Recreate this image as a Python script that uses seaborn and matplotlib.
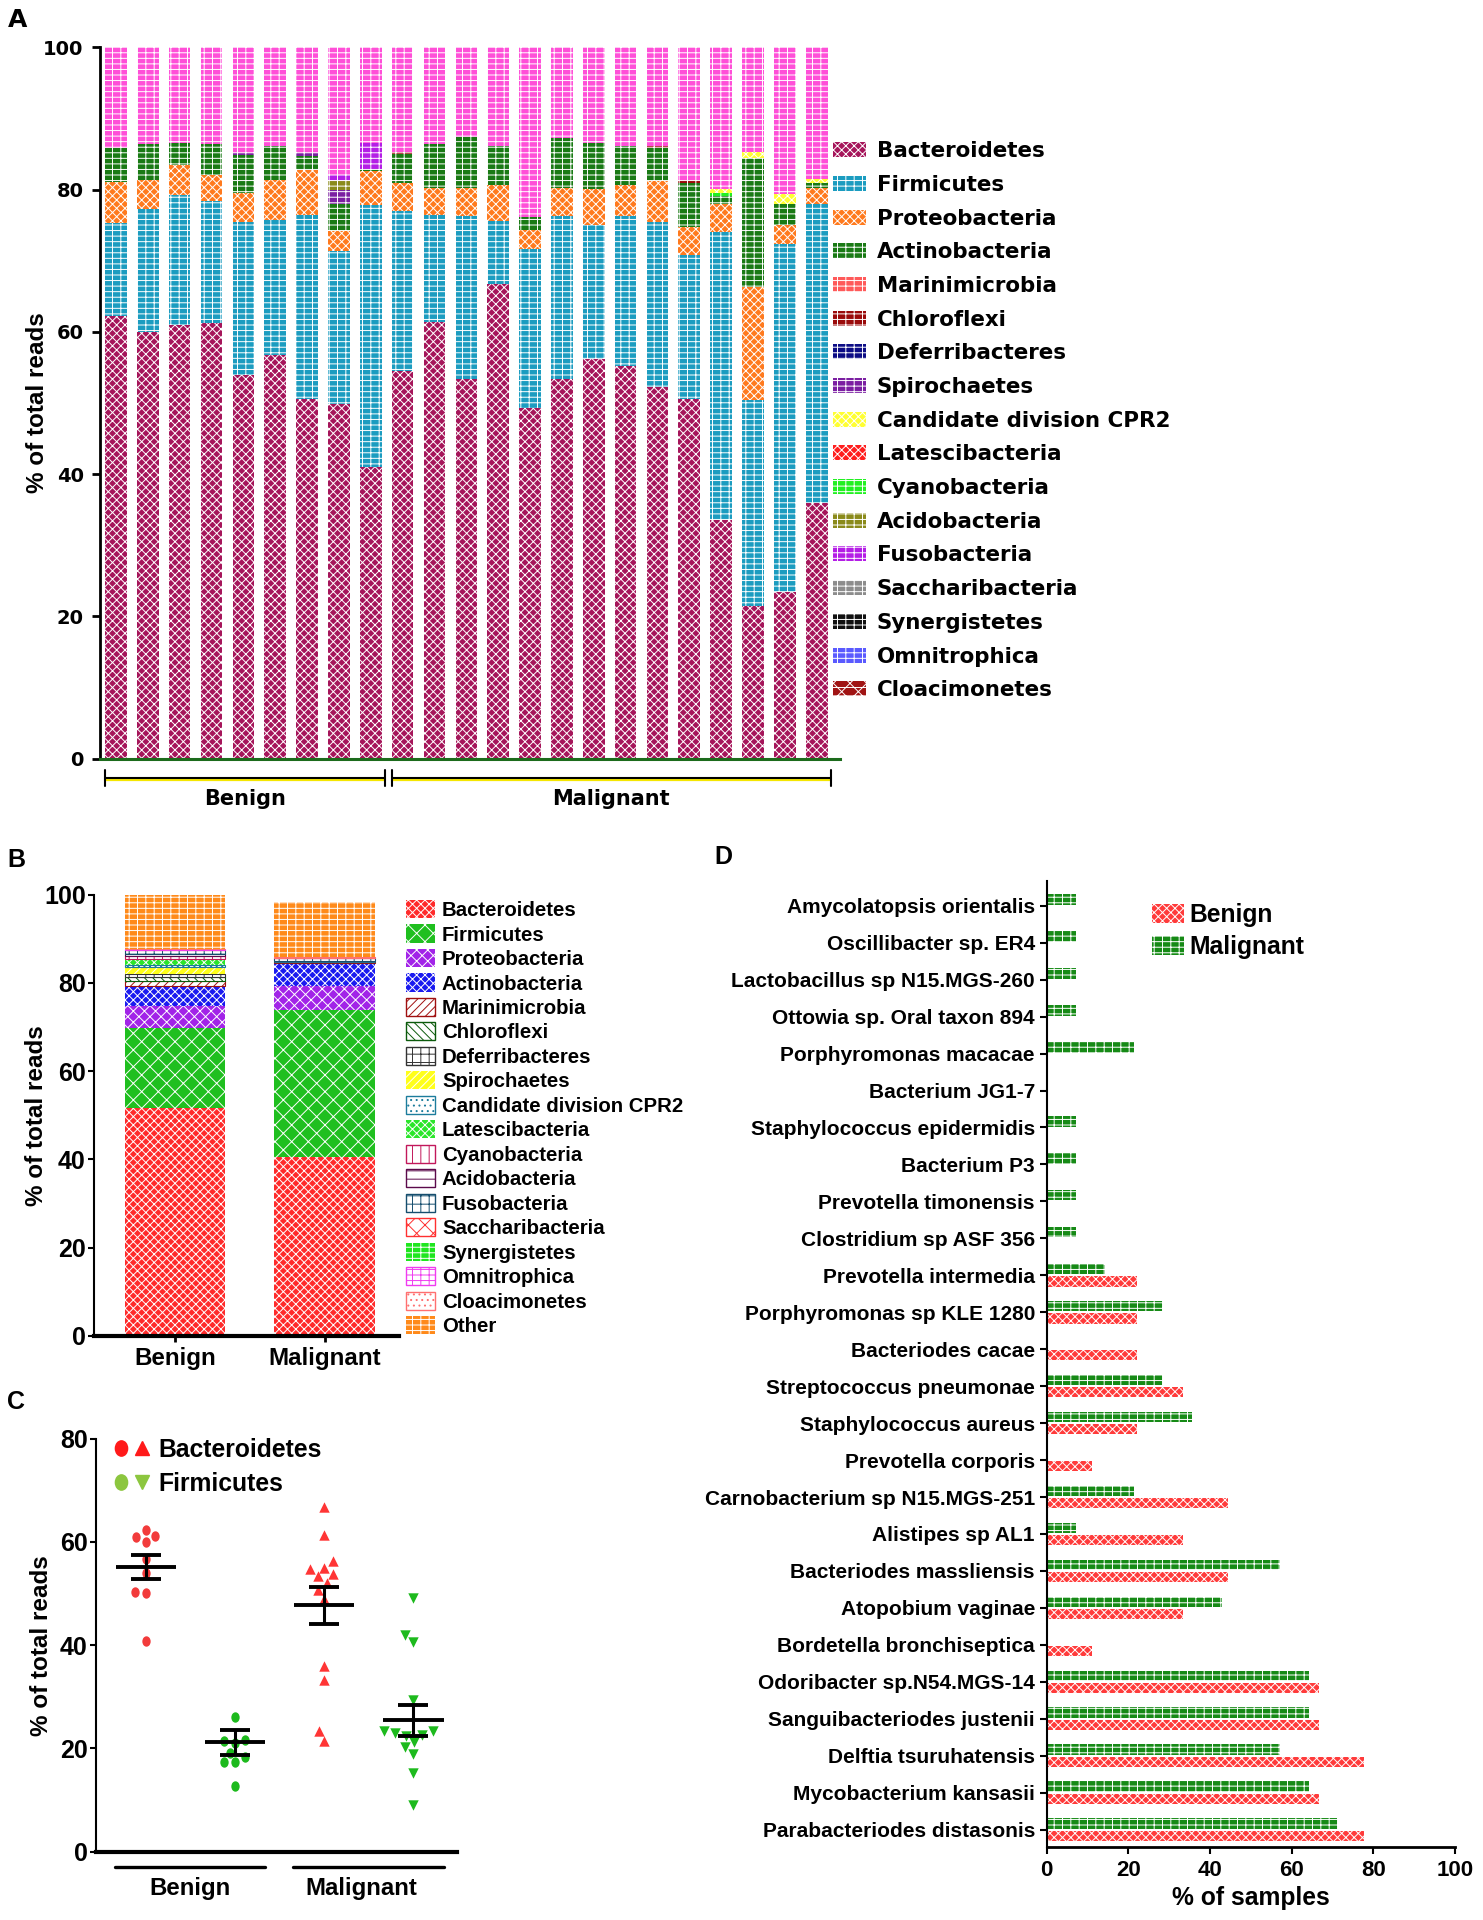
import numpy as np
import pandas as pd
import matplotlib
matplotlib.use("Agg")
import matplotlib.pyplot as plt
import seaborn as sns
from matplotlib.patches import Patch
from matplotlib.lines import Line2D
from matplotlib.legend_handler import HandlerTuple
from matplotlib.path import Path

# ============================ DATA ============================
phyla = ["Bacteroidetes", "Firmicutes", "Proteobacteria", "Actinobacteria",
         "Marinimicrobia", "Chloroflexi", "Deferribacteres", "Spirochaetes",
         "Candidate division CPR2", "Latescibacteria", "Cyanobacteria",
         "Acidobacteria", "Fusobacteria", "Saccharibacteria", "Synergistetes",
         "Omnitrophica", "Cloacimonetes"]

# ---- Panel A: per-sample composition (% of total reads), 9 benign + 14 malignant
a_groups = ["Benign"] * 9 + ["Malignant"] * 14
a_bacteroidetes = [62.3, 60.0, 61.0, 61.2, 53.9, 56.7, 50.6, 49.9, 41.0,
                   54.5, 61.4, 53.4, 66.7, 49.3, 53.4, 56.2, 55.2, 52.2, 50.6, 33.5, 21.5, 23.5, 36.0]
a_firmicutes = [13.0, 17.3, 18.3, 17.2, 21.5, 19.1, 25.9, 21.5, 36.8,
                22.5, 15.1, 22.9, 8.9, 22.4, 22.9, 18.9, 21.1, 23.3, 20.2, 40.5, 28.9, 48.9, 42.0]
a_proteobacteria = [5.8, 4.0, 4.2, 3.7, 4.1, 5.5, 6.3, 2.8, 4.8,
                    4.0, 3.8, 4.0, 5.1, 2.6, 4.0, 5.0, 4.3, 5.7, 3.9, 4.0, 15.9, 2.7, 2.3]
a_actinobacteria = [4.8, 5.1, 3.1, 4.3, 5.4, 4.8, 2.0, 3.8, 0.3,
                    4.0, 6.1, 7.1, 5.4, 1.9, 7.0, 6.5, 5.6, 4.7, 6.3, 1.1, 18.1, 2.9, 0.7]
a_chloroflexi = [0, 0, 0, 0, 0, 0, 0, 0, 0,
                 0.3, 0, 0, 0, 0, 0, 0, 0, 0.2, 0.3, 0, 0, 0, 0]
a_spirochaetes = [0, 0, 0, 0, 0.3, 0, 0.4, 2.0, 0,
                  0, 0, 0, 0, 0, 0, 0, 0, 0, 0, 0, 0, 0, 0]
a_cpr2 = [0, 0, 0, 0, 0, 0, 0, 0, 0,
          0, 0, 0, 0, 0, 0, 0, 0, 0, 0, 0.5, 0.9, 1.4, 0.5]
a_cyanobacteria = [0, 0, 0, 0, 0, 0, 0, 0, 0,
                   0, 0, 0, 0, 0, 0, 0, 0, 0, 0, 0.5, 0, 0, 0]
a_acidobacteria = [0, 0, 0, 0, 0, 0, 0, 1.2, 0,
                   0, 0, 0, 0, 0, 0, 0, 0, 0, 0, 0, 0, 0, 0]
a_fusobacteria = [0, 0, 0, 0, 0, 0, 0, 0.9, 3.7,
                  0, 0, 0, 0, 0, 0, 0, 0, 0, 0, 0, 0, 0, 0]

# ---- Panel B: mean composition per group
b_groups = ["Benign", "Malignant"]
b_bacteroidetes = [51.7, 40.6]
b_firmicutes = [18.0, 33.3]
b_proteobacteria = [5.1, 5.4]
b_actinobacteria = [4.5, 5.3]
b_marinimicrobia = [1.15, 0.05]
b_chloroflexi = [1.0, 0.05]
b_deferribacteres = [0.6, 0.05]
b_spirochaetes = [1.5, 0.05]
b_cpr2 = [0.6, 0.05]
b_latescibacteria = [1.2, 0.05]
b_cyanobacteria = [0.8, 0.05]
b_acidobacteria = [0.3, 0.05]
b_fusobacteria = [0.9, 0.6]
b_saccharibacteria = [0.1, 0.05]
b_synergistetes = [0.1, 0.05]
b_omnitrophica = [0.1, 0.05]
b_cloacimonetes = [0.05, 0.05]
b_other = [12.3, 12.5]

# ---- Panel C: Bacteroidetes / Firmicutes per sample, mean +/- SEM
c_categories = ["Benign Bacteroidetes", "Benign Firmicutes",
                "Malignant Bacteroidetes", "Malignant Firmicutes"]
c_benign_bacteroidetes = [62.3, 61.0, 61.2, 60.0, 56.7, 54.0, 50.3, 50.0, 40.8]
c_benign_firmicutes = [26.0, 21.7, 21.5, 21.0, 19.1, 18.3, 17.3, 17.3, 12.8]
c_malignant_bacteroidetes = [66.7, 61.3, 56.3, 55.0, 54.7, 53.7, 53.3, 52.0, 50.7,
                             49.0, 36.0, 33.3, 23.3, 21.5]
c_malignant_firmicutes = [49.2, 41.9, 40.7, 29.3, 23.3, 23.0, 23.3, 22.7, 21.3,
                          20.3, 19.0, 15.3, 9.0, 22.5]
c_means = [55.1, 21.2, 47.7, 25.5]
c_sem_upper = [57.5, 23.5, 51.3, 28.5]
c_sem_lower = [52.8, 18.8, 44.0, 22.5]

# ---- Panel D: species prevalence (% of samples)
d_species = ["Amycolatopsis orientalis", "Oscillibacter sp. ER4", "Lactobacillus sp N15.MGS-260",
             "Ottowia sp. Oral taxon 894", "Porphyromonas macacae", "Bacterium JG1-7",
             "Staphylococcus epidermidis", "Bacterium P3", "Prevotella timonensis",
             "Clostridium sp ASF 356", "Prevotella intermedia", "Porphyromonas sp KLE 1280",
             "Bacteriodes cacae", "Streptococcus pneumonae", "Staphylococcus aureus",
             "Prevotella corporis", "Carnobacterium sp N15.MGS-251", "Alistipes sp AL1",
             "Bacteriodes massliensis", "Atopobium vaginae", "Bordetella bronchiseptica",
             "Odoribacter sp.N54.MGS-14", "Sanguibacteriodes justenii", "Delftia tsuruhatensis",
             "Mycobacterium kansasii", "Parabacteriodes distasonis"]
d_malignant = [7.1, 7.1, 7.1, 7.1, 21.4, 0, 7.1, 7.1, 7.1, 7.1, 14.3, 28.6, 0, 28.6, 35.7,
               0, 21.4, 7.1, 57.1, 42.9, 0, 64.3, 64.3, 57.1, 64.3, 71.4]
d_benign = [0, 0, 0, 0, 0, 0, 0, 0, 0, 0, 22.2, 22.2, 22.2, 33.3, 22.2,
            11.1, 44.4, 33.3, 44.4, 33.3, 11.1, 66.7, 66.7, 77.8, 66.7, 77.8]

# ============================ STYLE ============================
BRICK = "---||"
a_style = {
    "Bacteroidetes": ("#A5155A", "xxxx"),
    "Firmicutes": ("#1B9CC0", BRICK),
    "Proteobacteria": ("#FF7A1E", "xxxx"),
    "Actinobacteria": ("#197A14", BRICK),
    "Marinimicrobia": ("#FF5A5A", BRICK),
    "Chloroflexi": ("#9A0A0A", BRICK),
    "Deferribacteres": ("#0C0C85", BRICK),
    "Spirochaetes": ("#7B1FA2", BRICK),
    "Candidate division CPR2": ("#FFFF33", "xxxx"),
    "Latescibacteria": ("#FF1E1E", "xxxx"),
    "Cyanobacteria": ("#22F022", BRICK),
    "Acidobacteria": ("#8A8A1A", BRICK),
    "Fusobacteria": ("#B41EE6", BRICK),
    "Saccharibacteria": ("#8C8C8C", BRICK),
    "Synergistetes": ("#111111", BRICK),
    "Omnitrophica": ("#5A5AFF", BRICK),
    "Cloacimonetes": ("#A01414", "xx--"),
    "Other": ("#FF4FD8", BRICK),
}
b_style = {
    "Bacteroidetes": ("#FF2B2B", "white", "xxxx"),
    "Firmicutes": ("#1FBF1F", "white", "xx"),
    "Proteobacteria": ("#A223E8", "white", "xxx"),
    "Actinobacteria": ("#1A1AF0", "white", "xxxx"),
    "Marinimicrobia": ("white", "#A01010", "////"),
    "Chloroflexi": ("white", "#0B5A0B", "\\\\\\\\"),
    "Deferribacteres": ("white", "#333333", "++"),
    "Spirochaetes": ("#FFFF1A", "white", "////"),
    "Candidate division CPR2": ("white", "#1C7C9C", "..."),
    "Latescibacteria": ("#2BE62B", "white", "xxxx"),
    "Cyanobacteria": ("white", "#C2185B", "||"),
    "Acidobacteria": ("white", "#5B0A4B", "--"),
    "Fusobacteria": ("white", "#164E6E", "++"),
    "Saccharibacteria": ("white", "#FF3030", "xx"),
    "Synergistetes": ("#1EE61E", "white", BRICK),
    "Omnitrophica": ("white", "#F03CF0", BRICK),
    "Cloacimonetes": ("white", "#FF7070", "..."),
    "Other": ("#FF8A1A", "white", BRICK),
}

sns.set_theme(style="ticks")
plt.rcParams.update({
    "font.family": ["Liberation Sans", "DejaVu Sans"],
    "font.weight": "bold",
    "axes.labelweight": "bold",
    "hatch.linewidth": 0.7,
    "axes.edgecolor": "black",
    "xtick.color": "black", "ytick.color": "black",
    "text.color": "black", "axes.labelcolor": "black",
})

W, H = 1483, 1920
fig = plt.figure(figsize=(W / 100, H / 100), dpi=100)


def rect(l, t, r, b):
    return [l / W, 1 - b / H, (r - l) / W, (b - t) / H]


# ============================ PANEL A ============================
axA = fig.add_axes(rect(100, 47.4, 840, 758.7))
xA = np.arange(len(a_groups))
a_layers = [("Bacteroidetes", a_bacteroidetes), ("Firmicutes", a_firmicutes),
            ("Proteobacteria", a_proteobacteria), ("Actinobacteria", a_actinobacteria),
            ("Chloroflexi", a_chloroflexi), ("Spirochaetes", a_spirochaetes),
            ("Acidobacteria", a_acidobacteria), ("Fusobacteria", a_fusobacteria),
            ("Cyanobacteria", a_cyanobacteria), ("Candidate division CPR2", a_cpr2)]
bottom = np.zeros(len(xA))
for name, vals in a_layers:
    col, hat = a_style[name]
    vals = np.asarray(vals, float)
    axA.bar(xA, vals, bottom=bottom, width=0.68, color=col, edgecolor="white",
            hatch=hat, linewidth=0)
    bottom += vals
a_other = 100 - bottom
axA.bar(xA, a_other, bottom=bottom, width=0.68, color=a_style["Other"][0],
        edgecolor="white", hatch=a_style["Other"][1], linewidth=0)

axA.set_xlim(-0.50, 22.73)
axA.set_ylim(0, 100)
axA.set_yticks(range(0, 101, 20))
axA.set_xticks([])
axA.tick_params(axis="y", length=5.8, width=2, pad=6, labelsize=14,
                labelfontfamily="DejaVu Sans")
axA.spines[["top", "right"]].set_visible(False)
axA.spines["left"].set_linewidth(2)
axA.spines["bottom"].set_linewidth(2.2)
axA.spines["bottom"].set_color("#1C6B1C")
axA.set_ylabel("% of total reads", fontsize=17.5)
axA.yaxis.set_label_coords(-0.069, 0.5)

for g in ["Benign", "Malignant"]:
    idx = [i for i, v in enumerate(a_groups) if v == g]
    x0, x1 = idx[0] - 0.34, idx[-1] + 0.44
    axA.plot([x0, x1], [-3.0, -3.0], color="#F5E600", lw=1.6, clip_on=False)
    axA.plot([x0, x1], [-2.7, -2.7], color="black", lw=1.5, clip_on=False)
    for xe in (x0, x1):
        axA.plot([xe, xe], [-1.6, -3.8], color="black", lw=1.5, clip_on=False)
    axA.text((x0 + x1) / 2, -5.6, g, ha="center", va="center", fontsize=15,
             family="DejaVu Sans", weight="bold")

handlesA = [Patch(facecolor=a_style[p][0], edgecolor="white", hatch=a_style[p][1],
                  linewidth=0) for p in phyla]
axA.legend(handlesA, phyla, loc="upper left", bbox_to_anchor=(833 / W, 1 - 141.2 / H),
           bbox_transform=fig.transFigure, frameon=False, borderpad=0, borderaxespad=0,
           prop={"family": "DejaVu Sans", "weight": "bold", "size": 15.4},
           handlelength=1.54, handleheight=0.7, handletextpad=0.5, labelspacing=0.64)

# ============================ PANEL B ============================
axB = fig.add_axes(rect(94, 894.7, 399.5, 1335.8))
xB = np.arange(len(b_groups))
b_layers = [("Bacteroidetes", b_bacteroidetes), ("Firmicutes", b_firmicutes),
            ("Proteobacteria", b_proteobacteria), ("Actinobacteria", b_actinobacteria),
            ("Marinimicrobia", b_marinimicrobia), ("Chloroflexi", b_chloroflexi),
            ("Deferribacteres", b_deferribacteres), ("Spirochaetes", b_spirochaetes),
            ("Candidate division CPR2", b_cpr2), ("Latescibacteria", b_latescibacteria),
            ("Cyanobacteria", b_cyanobacteria), ("Acidobacteria", b_acidobacteria),
            ("Fusobacteria", b_fusobacteria), ("Saccharibacteria", b_saccharibacteria),
            ("Synergistetes", b_synergistetes), ("Omnitrophica", b_omnitrophica),
            ("Cloacimonetes", b_cloacimonetes), ("Other", b_other)]
bottom = np.zeros(len(xB))
for name, vals in b_layers:
    fc, ec, hat = b_style[name]
    vals = np.asarray(vals, float)
    axB.bar(xB, vals, bottom=bottom, width=0.67, facecolor=fc, edgecolor=ec,
            hatch=hat, linewidth=0.8 if fc == "white" else 0)
    bottom += vals
axB.set_xlim(-0.54, 1.50)
axB.set_ylim(0, 100)
axB.set_yticks(range(0, 101, 20))
axB.set_xticks(xB)
axB.set_xticklabels(b_groups)
axB.tick_params(axis="y", length=4, width=1.5, pad=2, labelsize=18)
axB.tick_params(axis="x", length=4.3, width=2, pad=4, labelsize=17.4)
axB.spines[["top", "right"]].set_visible(False)
axB.spines["left"].set_linewidth(1.5)
axB.spines["bottom"].set_linewidth(3)
axB.set_ylabel("% of total reads", fontsize=17.5)
axB.yaxis.set_label_coords(-0.151, 0.5)

handlesB = [Patch(facecolor=b_style[n][0], edgecolor=b_style[n][1], hatch=b_style[n][2],
                  linewidth=1 if b_style[n][0] == "white" else 0) for n, _ in b_layers]
axB.legend(handlesB, [n for n, _ in b_layers], loc="upper left",
           bbox_to_anchor=(406 / W, 1 - 900 / H), bbox_transform=fig.transFigure,
           frameon=False, borderpad=0, borderaxespad=0,
           prop={"family": "Liberation Sans", "weight": "bold", "size": 14.7},
           handlelength=1.42, handleheight=0.98, handletextpad=0.34, labelspacing=0.22)

# ============================ PANEL C ============================
axC = fig.add_axes(rect(96, 1438.5, 457, 1851.8))
_uc = Path.unit_circle()
ellipse_marker = Path(_uc.vertices * np.array([0.8, 1.0]), _uc.codes)
c_sets = [(c_categories[0], c_benign_bacteroidetes, ellipse_marker, "#F23B3B"),
          (c_categories[1], c_benign_firmicutes, ellipse_marker, "#1DBA1D"),
          (c_categories[2], c_malignant_bacteroidetes, "^", "#FF3535"),
          (c_categories[3], c_malignant_firmicutes, "v", "#1DBA1D")]
for cat, vals, mk, col in c_sets:
    sns.swarmplot(x=[cat] * len(vals), y=vals, order=c_categories, marker=mk,
                  color=col, size=7.5, linewidth=0, ax=axC)
posC = np.arange(len(c_categories))
means = np.asarray(c_means)
axC.hlines(means, posC - 0.34, posC + 0.34, colors="black", lw=2.8, zorder=5)
axC.errorbar(posC, means,
             yerr=[means - np.asarray(c_sem_lower), np.asarray(c_sem_upper) - means],
             fmt="none", ecolor="black", elinewidth=2.2, capsize=11, capthick=2.8, zorder=5)
axC.set_xlim(-0.56, 3.49)
axC.set_ylim(0, 80)
axC.set_yticks(range(0, 81, 20))
axC.set_xlabel("")
axC.tick_params(axis="x", length=0, labelbottom=False)
axC.tick_params(axis="y", length=4, width=1.5, pad=2, labelsize=18)
axC.spines[["top", "right"]].set_visible(False)
axC.spines["left"].set_linewidth(1.5)
axC.spines["bottom"].set_linewidth(3)
axC.set_ylabel("% of total reads", fontsize=17.5)
axC.yaxis.set_label_coords(-0.119, 0.5)
for gi, g in enumerate(["Benign", "Malignant"]):
    x0, x1 = 2 * gi - 0.35, 2 * gi + 1.34
    axC.plot([x0, x1], [-2.86, -2.86], color="black", lw=2.4, clip_on=False)
    axC.text((x0 + x1) / 2 - 0.08 * gi, -7.2, g, ha="center", va="center", fontsize=17.3,
             weight="bold")

hb1 = Line2D([], [], ls="none", marker=ellipse_marker, ms=11, color="#FF1A1A")
hb2 = Line2D([], [], ls="none", marker="^", ms=10, color="#FF1A1A")
hf1 = Line2D([], [], ls="none", marker=ellipse_marker, ms=11, color="#8CC63F")
hf2 = Line2D([], [], ls="none", marker="v", ms=10, color="#8CC63F")
axC.legend([(hb1, hb2), (hf1, hf2)], ["Bacteroidetes", "Firmicutes"],
           handler_map={tuple: HandlerTuple(ndivide=None, pad=0.3)},
           loc="upper left", bbox_to_anchor=(114 / W, 1 - 1437.8 / H),
           bbox_transform=fig.transFigure, frameon=False, borderpad=0, borderaxespad=0,
           prop={"family": "Liberation Sans", "weight": "bold", "size": 17.8},
           handlelength=1.4, handletextpad=0.4, labelspacing=0.41)

# ============================ PANEL D ============================
axD = fig.add_axes(rect(1046.5, 881, 1455, 1847))
df_d = pd.DataFrame({
    "species": d_species * 2,
    "pct": d_malignant + d_benign,
    "group": ["Malignant"] * len(d_species) + ["Benign"] * len(d_species),
})
d_colors = {"Malignant": "#168A16", "Benign": "#FF3B3B"}
d_hatch = {"Malignant": BRICK, "Benign": "xxxx"}
sns.barplot(data=df_d, x="pct", y="species", hue="group", hue_order=["Malignant", "Benign"],
            order=d_species, orient="h", width=0.66, gap=0.15, palette=d_colors,
            saturation=1, errorbar=None, legend=False, ax=axD)
for cont, g in zip(axD.containers, ["Malignant", "Benign"]):
    for p in cont:
        p.set_hatch(d_hatch[g])
        p.set_edgecolor("white")
        p.set_linewidth(0)
axD.set_xlim(0, 100)
axD.set_xticks(range(0, 101, 20))
axD.set_ylim(25.47, -0.67)
axD.set_ylabel("")
axD.set_xlabel("% of samples", fontsize=17.7, labelpad=4)
axD.tick_params(axis="y", length=4.7, width=1.5, pad=3.6, labelsize=15)
axD.tick_params(axis="x", length=5, width=1.5, pad=4, labelsize=16)
axD.spines[["top", "right"]].set_visible(False)
axD.spines["left"].set_linewidth(1.5)
axD.spines["bottom"].set_linewidth(2)
handlesD = [Patch(facecolor=d_colors[g], edgecolor="white", hatch=d_hatch[g], linewidth=0)
            for g in ["Benign", "Malignant"]]
axD.legend(handlesD, ["Benign", "Malignant"], loc="upper left",
           bbox_to_anchor=(1152 / W, 1 - 902.6 / H), bbox_transform=fig.transFigure,
           frameon=False, borderpad=0, borderaxespad=0,
           prop={"family": "Liberation Sans", "weight": "bold", "size": 17.7},
           handlelength=1.3, handleheight=0.81, handletextpad=0.24, labelspacing=0.36)

# ============================ PANEL LETTERS ============================
fig.text(8 / W, 1 - 8 / H, "A", fontsize=18, family="DejaVu Sans", weight="bold",
         va="top", ha="left")
for letter, (lx, ly) in {"B": (7, 848), "C": (7, 1390), "D": (714, 845)}.items():
    fig.text(lx / W, 1 - ly / H, letter, fontsize=18, weight="bold", va="top", ha="left")

fig.savefig("out.png", dpi=100)
